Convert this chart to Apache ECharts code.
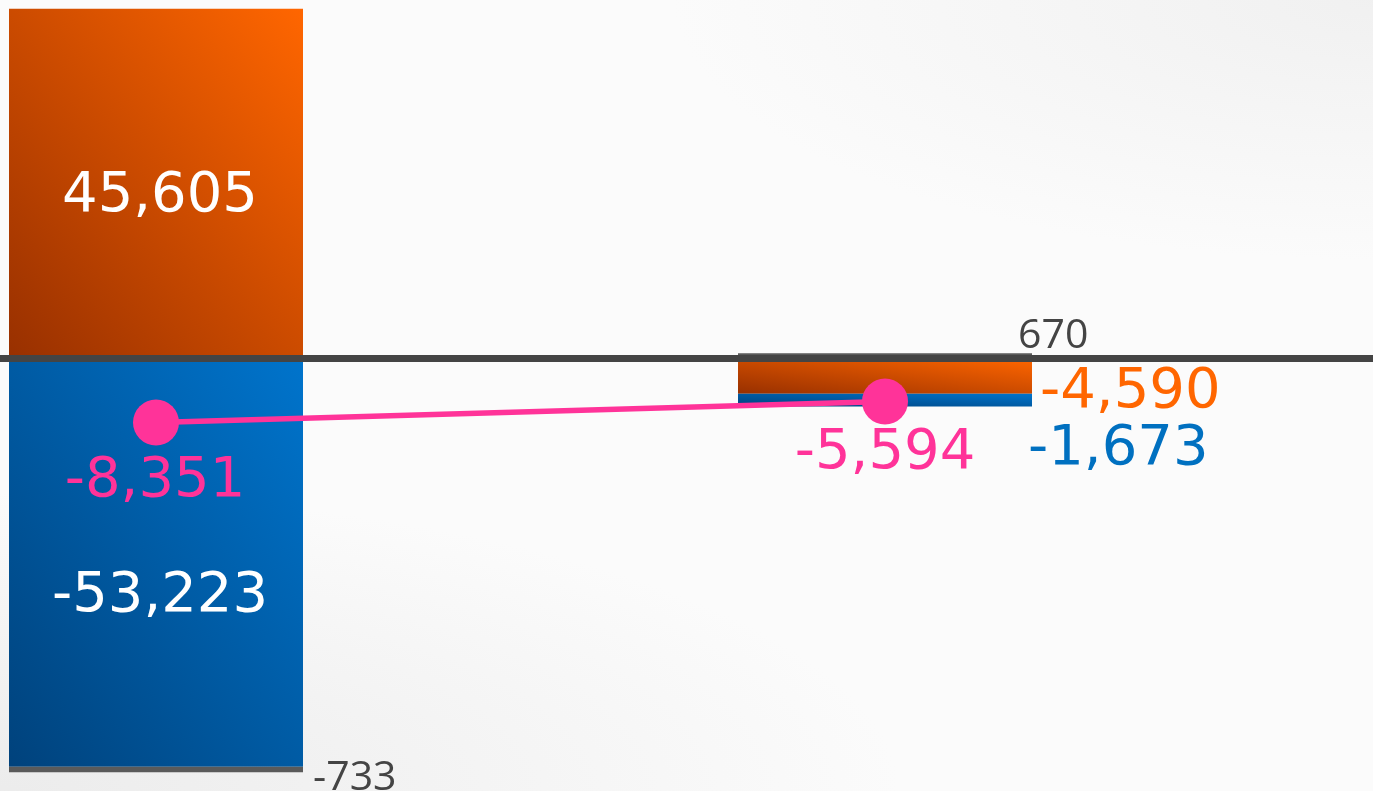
<!DOCTYPE html>
<html>
<head>
<meta charset="utf-8">
<script src="https://cdn.jsdelivr.net/npm/echarts@6/dist/echarts.min.js"></script>
<style>
  html, body { margin: 0; padding: 0; width: 1373px; height: 791px; overflow: hidden; }
  body {
    background:
      radial-gradient(ellipse 700px 260px at 1373px 0px, rgba(236,236,236,0.7), rgba(252,252,252,0) 100%),
      radial-gradient(ellipse 900px 300px at 0px 791px, rgba(232,232,232,0.8), rgba(252,252,252,0) 100%),
      #fbfbfb;
  }
  #chart { width: 1373px; height: 791px; }
</style>
</head>
<body>
<div id="chart"></div>
<script>
// ---- data ----
const categories = ['Category 1', 'Category 2'];
const orangeValues = [45605, -4590];
const blueValues = [-53223, -1673];
const greyValues = [-733, 670];
const totalValues = [-8351, -5594];

// ---- layout / styles ----
const Y_MIN = -56390, Y_MAX = 46740;
const CHART_H = 791;
const BAR_W = 294;
const BIG = 'DejaVu Sans';
const SMALL = 'Open Sans';
const fmt = v => v.toLocaleString('en-US');

const orangeLabels = [
  { position: 'inside', offset: [4, 13], color: '#ffffff', fontSize: 56, fontFamily: BIG },
  { position: 'right', distance: 8, offset: [0, 16], color: '#ff6600', fontSize: 56, fontFamily: BIG }
];
const blueLabels = [
  { position: 'inside', offset: [4, 34], color: '#ffffff', fontSize: 56, fontFamily: BIG },
  { position: 'right', distance: 0, offset: [-4, 49], color: '#0070c0', fontSize: 56, fontFamily: BIG }
];
const greyLabels = [
  { position: 'right', distance: 10, offset: [0, 9], color: '#444444', fontSize: 41, fontFamily: SMALL },
  { position: 'right', distance: 0, offset: [-14, -20], color: '#444444', fontSize: 41, fontFamily: SMALL }
];
const totalLabels = [
  { position: 'inside', offset: [-1, 59], color: '#ff3399', fontSize: 56, fontFamily: BIG },
  { position: 'inside', offset: [0, 52], color: '#ff3399', fontSize: 56, fontFamily: BIG }
];

// "to top right" style gradient: bottom-left dark, top-right bright, other corners mid
function cornerGradient(value, c0, c1) {
  const w = BAR_W;
  const h = Math.max(1, Math.abs(value) * CHART_H / (Y_MAX - Y_MIN));
  const d2 = w * w + h * h;
  const a = h * h / d2, b = w * w / d2;
  return new echarts.graphic.LinearGradient(0.5 - a, 0.5 + b, 0.5 + a, 0.5 - b, [
    { offset: 0, color: c0 }, { offset: 1, color: c1 }
  ]);
}

function items(values, labels, colorFn) {
  return values.map((v, i) => {
    const it = {
      value: v,
      label: Object.assign({ show: true, formatter: p => fmt(p.value) }, labels[i])
    };
    if (colorFn) it.itemStyle = { color: colorFn(v) };
    return it;
  });
}

const orangeColor = v => cornerGradient(v, '#983000', '#ff6600');
const blueColor = v => cornerGradient(v, '#00427c', '#0074cc');

const chart = echarts.init(document.getElementById('chart'), null, { renderer: 'canvas' });
chart.setOption({
  animation: false,
  backgroundColor: 'transparent',
  grid: { left: -208.5, right: -605.5, top: 0, bottom: 0, containLabel: false, outerBoundsMode: 'none' },
  xAxis: {
    type: 'category',
    data: categories,
    max: 2,
    z: 5,
    axisLine: { show: true, onZero: true, lineStyle: { color: '#444444', width: 7 } },
    axisTick: { show: false },
    axisLabel: { show: false },
    splitLine: { show: false }
  },
  yAxis: {
    type: 'value',
    min: Y_MIN,
    max: Y_MAX,
    show: false,
    splitLine: { show: false }
  },
  series: [
    {
      type: 'bar', stack: 'total', barWidth: BAR_W,
      data: items(orangeValues, orangeLabels, orangeColor)
    },
    {
      type: 'bar', stack: 'total', barWidth: BAR_W,
      data: items(blueValues, blueLabels, blueColor)
    },
    {
      type: 'bar', stack: 'total', barWidth: BAR_W,
      itemStyle: { color: '#5a5a5a' },
      data: items(greyValues, greyLabels)
    },
    {
      type: 'line', z: 10,
      symbol: 'circle', symbolSize: 46,
      lineStyle: { color: '#ff3399', width: 5.5 },
      itemStyle: { color: '#ff3399' },
      data: items(totalValues, totalLabels)
    }
  ]
});
</script>
</body>
</html>
